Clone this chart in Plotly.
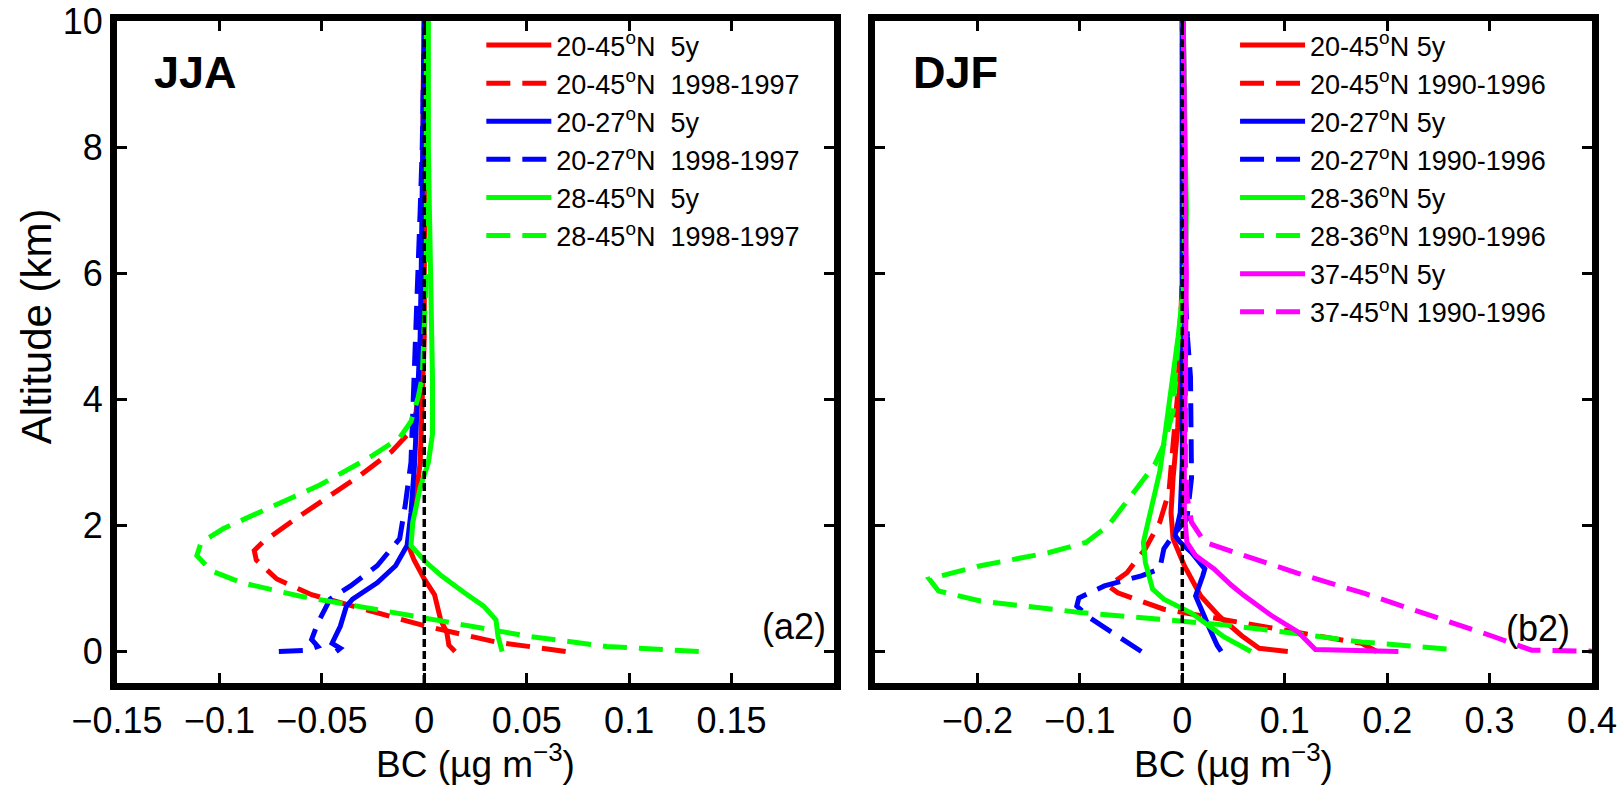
import plotly.graph_objects as go

# ---------------- data (JJA, panel a2) ----------------
jja_labels = ["20-45<sup>o</sup>N  5y", "20-45<sup>o</sup>N  1998-1997",
              "20-27<sup>o</sup>N  5y", "20-27<sup>o</sup>N  1998-1997",
              "28-45<sup>o</sup>N  5y", "28-45<sup>o</sup>N  1998-1997"]

jja_r5_alt = [0, 0.1, 0.3, 0.5, 0.9, 1.15, 1.45, 1.7, 2.2, 3.0, 4.0, 5, 6, 7, 8, 9, 10]
jja_r5_bc = [0.015, 0.012, 0.011, 0.008, 0.005, 0.0, -0.005, -0.008, -0.005, -0.002, -0.001,
             0.0, 0.0, 0.0005, 0.001, 0.001, 0.001]

jja_rd_alt = [0, 0.15, 0.4, 0.65, 0.9, 1.15, 1.45, 1.6, 1.73, 2.1, 2.48, 2.8, 3.17, 3.5, 3.8,
              4.35, 5, 6, 7, 8, 9, 10]
jja_rd_bc = [0.069, 0.035, 0.001, -0.027, -0.055, -0.072, -0.082, -0.083, -0.079, -0.063, -0.046,
             -0.031, -0.016, -0.0065, -0.004, -0.002, -0.001, -0.001, -0.001, -0.0005, -0.0005, 0.0]

jja_b5_alt = [0, 0.05, 0.13, 0.4, 0.72, 0.83, 1.09, 1.36, 1.68, 2.2, 3.0, 3.8, 4.35, 5, 6, 7, 8, 9, 10]
jja_b5_bc = [-0.043, -0.041, -0.045, -0.041, -0.038, -0.035, -0.023, -0.014, -0.0084, -0.0065,
             -0.0047, -0.0037, -0.003, -0.002, -0.0015, -0.001, -0.0005, 0.0, 0.0]

jja_bd_alt = [0, 0.02, 0.08, 0.19, 0.45, 0.83, 1.04, 1.36, 1.79, 2.32, 3.0, 3.8, 4.35, 5, 6, 7, 8, 9, 10]
jja_bd_bc = [-0.071, -0.057, -0.052, -0.055, -0.052, -0.046, -0.036, -0.023, -0.012, -0.0093,
             -0.0065, -0.0055, -0.005, -0.004, -0.003, -0.002, -0.001, -0.0005, 0.0]

jja_g5_alt = [0, 0.24, 0.5, 0.72, 0.93, 1.2, 1.41, 1.68, 2.05, 2.6, 3.0, 3.45, 4.35, 5, 6, 7, 8, 9, 10]
jja_g5_bc = [0.038, 0.036, 0.035, 0.029, 0.0196, 0.0084, 0.001, -0.0065, -0.0056, -0.002, 0.002,
             0.004, 0.004, 0.0035, 0.003, 0.0025, 0.002, 0.002, 0.002]

jja_gd_alt = [0, 0.08, 0.24, 0.45, 0.67, 0.88, 1.09, 1.28, 1.52, 1.73, 1.95, 2.27, 2.64, 3.07, 3.39,
              3.65, 4.03, 4.35, 5, 6, 7, 8, 9, 10]
jja_gd_bc = [0.134, 0.089, 0.051, 0.014, -0.023, -0.061, -0.089, -0.104, -0.111, -0.109, -0.098,
             -0.076, -0.051, -0.027, -0.012, -0.0065, -0.003, -0.001, 0.0, 0.001, 0.001, 0.001,
             0.001, 0.001]

# ---------------- data (DJF, panel b2) ----------------
djf_labels = ["20-45<sup>o</sup>N 5y", "20-45<sup>o</sup>N 1990-1996",
              "20-27<sup>o</sup>N 5y", "20-27<sup>o</sup>N 1990-1996",
              "28-36<sup>o</sup>N 5y", "28-36<sup>o</sup>N 1990-1996",
              "37-45<sup>o</sup>N 5y", "37-45<sup>o</sup>N 1990-1996"]

djf_r5_alt = [0, 0.05, 0.25, 0.56, 0.88, 1.36, 1.79, 2.2, 2.75, 3.55, 4.35, 5, 6, 7, 8, 9, 10]
djf_r5_bc = [0.103, 0.075, 0.058, 0.036, 0.018, 0.002, -0.009, -0.011, -0.009, -0.0045, -0.002,
             0.0, 0.0, 0.0, 0.0, 0.0, 0.0]

djf_rd_alt = [0, 0.13, 0.29, 0.51, 0.67, 0.93, 1.04, 1.25, 1.63, 2.05, 2.53, 3.28, 4.08, 5, 6, 7,
              8, 9, 10]
djf_rd_bc = [0.19, 0.175, 0.117, 0.04, -0.018, -0.063, -0.072, -0.054, -0.036, -0.022, -0.013,
             -0.009, -0.0045, -0.002, 0.0, 0.0005, 0.0005, 0.0005, 0.0005]

djf_b5_alt = [0, 0.1, 0.35, 0.72, 0.88, 1.2, 1.31, 1.57, 1.73, 1.84, 2.2, 3, 4, 5, 6, 7, 8, 9, 10]
djf_b5_bc = [0.038, 0.034, 0.027, 0.018, 0.013, 0.02, 0.022, 0.009, -0.002, -0.007, -0.002, 0.0,
             0.0, 0.0, 0.0, 0.0, 0.0, 0.0, 0.0]

djf_bd_alt = [0, 0.24, 0.53, 0.72, 0.85, 1.04, 1.2, 1.31, 1.63, 1.84, 2.1, 2.75, 3.8, 4.35, 5, 6,
              7, 8, 9, 10]
djf_bd_bc = [-0.04, -0.063, -0.09, -0.103, -0.101, -0.076, -0.04, -0.022, -0.018, -0.009, 0.0045,
             0.009, 0.009, 0.008, 0.005, 0.002, 0.001, 0.001, 0.0, 0.0]

djf_g5_alt = [0, 0.24, 0.61, 0.83, 0.99, 1.41, 1.73, 2.2, 2.85, 3.55, 4.35, 5.0, 5.6, 6, 7, 8, 9, 10]
djf_g5_bc = [0.067, 0.04, 0.009, -0.018, -0.029, -0.036, -0.038, -0.031, -0.022, -0.016, -0.009,
             -0.004, 0.0, 0.003, 0.004, 0.003, 0.002, 0.001]

djf_gd_alt = [0.04, 0.15, 0.28, 0.41, 0.48, 0.62, 0.8, 0.96, 1.15, 1.36, 1.57, 1.73, 2.0, 2.48,
              2.96, 3.28, 3.81, 4.35, 5.0, 5.5, 6, 7, 8, 9, 10]
djf_gd_bc = [0.258, 0.175, 0.113, 0.048, 0.0, -0.1, -0.197, -0.238, -0.247, -0.197, -0.13, -0.094,
             -0.072, -0.049, -0.027, -0.018, -0.009, -0.007, -0.003, 0.0, 0.002, 0.002, 0.002,
             0.001, 0.001]

djf_m5_alt = [0, 0.03, 0.31, 0.57, 0.89, 1.05, 1.31, 1.52, 1.73, 2.2, 3, 4, 5, 6, 7, 8, 9, 10]
djf_m5_bc = [0.211, 0.13, 0.113, 0.087, 0.06, 0.048, 0.031, 0.013, 0.0045, 0.002, 0.002, 0.003,
             0.004, 0.004, 0.003, 0.002, 0.001, 0.001]

djf_md_alt = [0, 0.02, 0.23, 0.57, 0.92, 1.24, 1.58, 1.73, 2.05, 2.48, 3, 4, 5, 6, 7, 8, 9, 10]
djf_md_bc = [0.42, 0.341, 0.305, 0.243, 0.178, 0.113, 0.048, 0.022, 0.009, 0.0045, 0.003, 0.003,
             0.004, 0.004, 0.003, 0.002, 0.001, 0.001]

zero_x = [0, 0]
zero_y = [-0.5, 10]

# ---------------- styling ----------------
RED, BLUE, GREEN, MAG = "#FF0000", "#0000FF", "#00FF00", "#FF00FF"
DASH = "24px,12px"
LW = 5
FONT = "Liberation Sans, Arial, sans-serif"

fig = go.Figure()

jja_series = [(jja_r5_bc, jja_r5_alt, RED, "solid"), (jja_rd_bc, jja_rd_alt, RED, DASH),
              (jja_b5_bc, jja_b5_alt, BLUE, "solid"), (jja_bd_bc, jja_bd_alt, BLUE, DASH),
              (jja_g5_bc, jja_g5_alt, GREEN, "solid"), (jja_gd_bc, jja_gd_alt, GREEN, DASH)]
for (x, y, c, d), name in zip(jja_series, jja_labels):
    fig.add_trace(go.Scatter(x=x, y=y, mode="lines", name=name, xaxis="x", yaxis="y",
                             line=dict(color=c, width=LW, dash=d), legend="legend"))

djf_series = [(djf_r5_bc, djf_r5_alt, RED, "solid"), (djf_rd_bc, djf_rd_alt, RED, DASH),
              (djf_b5_bc, djf_b5_alt, BLUE, "solid"), (djf_bd_bc, djf_bd_alt, BLUE, DASH),
              (djf_g5_bc, djf_g5_alt, GREEN, "solid"), (djf_gd_bc, djf_gd_alt, GREEN, DASH),
              (djf_m5_bc, djf_m5_alt, MAG, "solid"), (djf_md_bc, djf_md_alt, MAG, DASH)]
for (x, y, c, d), name in zip(djf_series, djf_labels):
    fig.add_trace(go.Scatter(x=x, y=y, mode="lines", name=name, xaxis="x2", yaxis="y2",
                             line=dict(color=c, width=LW, dash=d), legend="legend2"))

for xa, ya in (("x", "y"), ("x2", "y2")):
    fig.add_trace(go.Scatter(x=zero_x, y=zero_y, mode="lines", xaxis=xa, yaxis=ya,
                             showlegend=False, hoverinfo="skip",
                             line=dict(color="black", width=3.5, dash="8px,4px")))

axis_common = dict(showline=True, linecolor="black", linewidth=7, mirror="ticks",
                   ticks="inside", ticklen=10, tickwidth=3, tickcolor="black",
                   showgrid=False, zeroline=False, automargin=False,
                   ticklabeloverflow="allow")

TICK = 36
TITLE = 37

fig.update_layout(
    width=1623, height=785,
    margin=dict(l=117, r=31, t=21, b=102),
    paper_bgcolor="white", plot_bgcolor="white",
    font=dict(family=FONT, color="black"),
    xaxis=dict(domain=[0, 0.4861], range=[-0.15, 0.2],
               tickvals=[-0.15, -0.1, -0.05, 0, 0.05, 0.1, 0.15],
               ticktext=["\u22120.15", "\u22120.1", "\u22120.05", "0", "0.05", "0.1", "0.15"],
               tickfont=dict(size=TICK),
               title=dict(text="BC (\u00b5g m<sup>\u22123</sup>)", font=dict(size=TITLE), standoff=16),
               anchor="y", **axis_common),
    yaxis=dict(domain=[0, 1], range=[-0.5, 10], tickvals=[0, 2, 4, 6, 8, 10],
               tickfont=dict(size=TICK), anchor="x", **axis_common),
    xaxis2=dict(domain=[0.5139, 1], range=[-0.3, 0.4],
                tickvals=[-0.2, -0.1, 0, 0.1, 0.2, 0.3, 0.4],
                ticktext=["\u22120.2", "\u22120.1", "0", "0.1", "0.2", "0.3", "0.4"],
                tickfont=dict(size=TICK),
                title=dict(text="BC (\u00b5g m<sup>\u22123</sup>)", font=dict(size=TITLE), standoff=16),
                anchor="y2", **axis_common),
    yaxis2=dict(domain=[0, 1], range=[-0.5, 10], tickvals=[0, 2, 4, 6, 8, 10],
                showticklabels=False, anchor="x2", **axis_common),
    legend=dict(x=0.247, y=1.0, xanchor="left", yanchor="top", bgcolor="rgba(0,0,0,0)",
                font=dict(size=27, family=FONT), borderwidth=0, tracegroupgap=0, itemwidth=65),
    legend2=dict(x=0.758, y=1.0, xanchor="left", yanchor="top", bgcolor="rgba(0,0,0,0)",
                 font=dict(size=27, family=FONT), borderwidth=0, tracegroupgap=0, itemwidth=65),
    annotations=[
        dict(text="Altitude (km)", xref="paper", yref="paper", x=-0.0549, y=0.539,
             textangle=-90, xanchor="center", yanchor="middle", showarrow=False,
             font=dict(size=42)),
        dict(text="<b>JJA</b>", xref="x domain", yref="y domain", x=0.049, y=0.922,
             xanchor="left", yanchor="middle", showarrow=False, font=dict(size=45)),
        dict(text="<b>DJF</b>", xref="x2 domain", yref="y2 domain", x=0.05, y=0.922,
             xanchor="left", yanchor="middle", showarrow=False, font=dict(size=45)),
        dict(text="(a2)", xref="x domain", yref="y domain", x=0.992, y=0.086,
             xanchor="right", yanchor="middle", showarrow=False, font=dict(size=36)),
        dict(text="(b2)", xref="x2 domain", yref="y2 domain", x=0.972, y=0.082,
             xanchor="right", yanchor="middle", showarrow=False, font=dict(size=36)),
    ],
)

fig.write_html("out.html")
